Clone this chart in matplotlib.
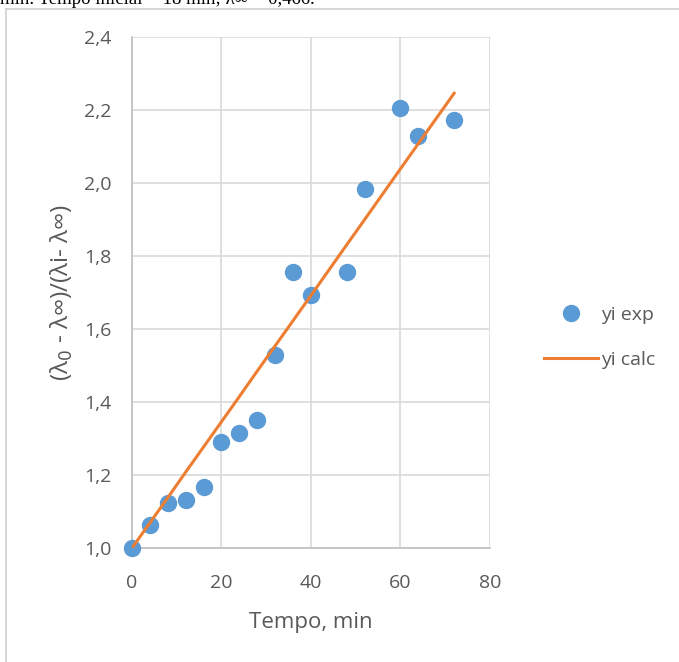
import matplotlib.pyplot as plt
from matplotlib.lines import Line2D

# dados
tempo = [0, 4, 8, 12, 16, 20, 24, 28, 32, 36, 40, 48, 52, 60, 64, 72]
yi_exp = [1.000, 1.063, 1.123, 1.132, 1.167, 1.290, 1.315, 1.351,
          1.529, 1.756, 1.693, 1.756, 1.984, 2.205, 2.129, 2.173]
yi_calc = [1.000, 1.069, 1.138, 1.208, 1.277, 1.346, 1.415, 1.485,
           1.554, 1.623, 1.692, 1.831, 1.900, 2.039, 2.108, 2.246]
x_ticks = [0, 20, 40, 60, 80]
y_ticks = [1.0, 1.2, 1.4, 1.6, 1.8, 2.0, 2.2, 2.4]

plt.rcParams['font.family'] = ['Open Sans', 'DejaVu Sans']

fig = plt.figure(figsize=(6.79, 6.62), dpi=100)
ax = fig.add_axes([0.1944, 0.1722, 0.5272, 0.7719])

ax.plot(tempo, yi_exp, 'o', color='#5B9BD5', markersize=11.5, label='yi exp', zorder=3)
ax.plot(tempo, yi_calc, '-', color='#ED7D31', linewidth=2.2, label='yi calc', zorder=4)

ax.set_xlim(0, 80)
ax.set_ylim(1.0, 2.4)
ax.set_xticks(x_ticks)
ax.set_yticks(y_ticks)
ax.set_yticklabels([f'{v:.1f}'.replace('.', ',') for v in y_ticks])
ax.tick_params(length=0, labelsize=14, colors='#595959')
ax.tick_params(axis='y', pad=15)
ax.tick_params(axis='x', pad=19)
ax.grid(True, color='#d9d9d9', linewidth=1.2)
ax.set_axisbelow(True)
for s in ['top', 'right']:
    ax.spines[s].set_visible(False)
for s in ['left', 'bottom']:
    ax.spines[s].set_color('#bfbfbf')
    ax.spines[s].set_linewidth(1.2)
ax.lines[0].set_clip_on(False)

ax.set_xlabel('Tempo, min', fontsize=16, color='#595959', labelpad=14)
ax.set_ylabel('(λ$_0$ - λ∞)/(λi- λ∞)', fontsize=17.5, color='#595959', labelpad=6)

fig.legend(loc='center left', bbox_to_anchor=(0.775, 0.49), frameon=False,
           fontsize=14, handlelength=2.8, handletextpad=0.15, labelspacing=1.4,
           labelcolor='#595959')

# moldura e texto cortado do documento
fig.add_artist(Line2D([6 / 679, 6 / 679], [0, 1 - 9 / 662], color='#d0d0d0', lw=1.2))
fig.add_artist(Line2D([6 / 679, 1], [1 - 9 / 662, 1 - 9 / 662], color='#d0d0d0', lw=1.2))
fig.text(0.0, 1 - 4 / 662, 'min. Tempo inicial = 18 min; λ∞ = 0,466.',
         family='Liberation Serif', fontsize=13.5, va='baseline', ha='left')

plt.savefig('out.png', dpi=100)
